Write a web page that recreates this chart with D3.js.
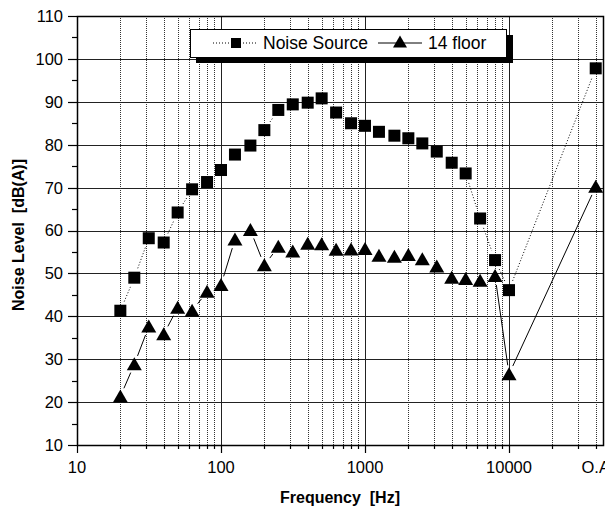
<!DOCTYPE html>
<html>
<head>
<style>
html, body { margin:0; padding:0; background:#fff; }
svg text { font-family: "Liberation Sans", Arial, sans-serif; fill:#000; }
</style>
</head>
<body>
<svg id="chart" width="605" height="511"></svg>
<script src="https://cdn.jsdelivr.net/npm/d3@7/dist/d3.min.js"></script>
<script>
// 1/3 octave bands, last point is the overall level (O.A)
var freqs = [20,25,31.5,40,50,63,80,100,125,160,200,250,315,400,500,630,800,1000,1250,1600,2000,2500,3150,4000,5000,6300,8000,10000,40000];
var noiseSource = [41.3,49,58.2,57.2,64.2,69.6,71.3,74.1,77.7,79.8,83.4,88.1,89.4,89.8,90.8,87.5,85,84.4,83,82.1,81.5,80.3,78.4,75.8,73.3,62.8,53.1,46.1,97.8];
var floor14 = [21.3,28.8,37.6,35.8,42,41.3,45.7,47.3,57.9,60.1,51.9,56.2,55.1,56.9,56.8,55.5,55.6,55.7,54.1,53.9,54.3,53.3,51.6,49,48.7,48.3,49.4,26.5,70.2];
var xTicks = [10,100,1000,10000,40000];
var xTickLabels = ["10","100","1000","10000","O.A"];
var yTicks = [10,20,30,40,50,60,70,80,90,100,110];

var svg = d3.select("#chart");
var x = d3.scaleLog().domain([10, 45670]).range([77, 604]);
var y = d3.scaleLinear().domain([10, 110]).range([445, 16]);

// minor vertical positions
var minorX = [];
[10,100,1000,10000].forEach(function(d){
    for (var k = 2; k <= 9; k++) { if (d*k < 45670) minorX.push(d*k); }
});

var grid = svg.append("g");
grid.selectAll(".vmin").data(minorX).enter().append("line")
    .attr("x1", function(d){ return Math.round(x(d))+0.5; })
    .attr("x2", function(d){ return Math.round(x(d))+0.5; })
    .attr("y1", y(110)).attr("y2", y(10))
    .attr("stroke", "#333").attr("stroke-width", 1).attr("stroke-dasharray", "1,1");
grid.selectAll(".vmaj").data([100,1000,10000]).enter().append("line")
    .attr("x1", function(d){ return Math.round(x(d))+0.5; })
    .attr("x2", function(d){ return Math.round(x(d))+0.5; })
    .attr("y1", y(110)).attr("y2", y(10))
    .attr("stroke", "#222").attr("stroke-width", 1);
grid.selectAll(".hmaj").data(d3.range(20, 101, 10)).enter().append("line")
    .attr("x1", x(10)).attr("x2", x.range()[1])
    .attr("y1", function(d){ return Math.round(y(d))+0.5; })
    .attr("y2", function(d){ return Math.round(y(d))+0.5; })
    .attr("stroke", "#222").attr("stroke-width", 1);

// frame
svg.append("rect")
    .attr("x", 77.5).attr("y", 16.5).attr("width", 604-77-1).attr("height", 445-16)
    .attr("fill", "none").attr("stroke", "#000").attr("stroke-width", 1.5);

// y axis ticks
var ax = svg.append("g");
ax.selectAll(".yt").data(yTicks).enter().append("line")
    .attr("x1", 68).attr("x2", 77)
    .attr("y1", function(d){ return Math.round(y(d))+0.5; })
    .attr("y2", function(d){ return Math.round(y(d))+0.5; })
    .attr("stroke", "#000").attr("stroke-width", 1.2);
ax.selectAll(".ytm").data(d3.range(15, 110, 10)).enter().append("line")
    .attr("x1", 72).attr("x2", 77)
    .attr("y1", function(d){ return Math.round(y(d))+0.5; })
    .attr("y2", function(d){ return Math.round(y(d))+0.5; })
    .attr("stroke", "#000").attr("stroke-width", 1.2);
ax.selectAll(".ylab").data(yTicks).enter().append("text")
    .attr("x", 63).attr("y", function(d){ return y(d); })
    .attr("dy", "0.36em").attr("text-anchor", "end")
    .style("font-size", "16.5px").text(function(d){ return d; });

// x axis ticks
ax.selectAll(".xt").data([10,100,1000,10000]).enter().append("line")
    .attr("x1", function(d){ return Math.round(x(d))+0.5; })
    .attr("x2", function(d){ return Math.round(x(d))+0.5; })
    .attr("y1", 445).attr("y2", 453)
    .attr("stroke", "#000").attr("stroke-width", 1.2);
ax.selectAll(".xtm").data(minorX).enter().append("line")
    .attr("x1", function(d){ return Math.round(x(d))+0.5; })
    .attr("x2", function(d){ return Math.round(x(d))+0.5; })
    .attr("y1", 445).attr("y2", 449)
    .attr("stroke", "#000").attr("stroke-width", 1.2);
ax.selectAll(".xlab").data(xTicks).enter().append("text")
    .attr("x", function(d){ return x(d); }).attr("y", 473)
    .attr("text-anchor", "middle")
    .style("font-size", "16.5px").text(function(d, i){ return xTickLabels[i]; });

// axis titles
svg.append("text").attr("x", 340).attr("y", 503).attr("text-anchor", "middle")
    .style("font-size", "16px").style("font-weight", "bold")
    .attr("xml:space", "preserve").text("Frequency  [Hz]");
svg.append("text").attr("transform", "translate(24,235) rotate(-90)")
    .attr("text-anchor", "middle")
    .style("font-size", "16px").style("font-weight", "bold")
    .attr("xml:space", "preserve").text("Noise Level  [dB(A)]");

// series lines with gaps around markers
function gapSegments(vals, gap) {
    var segs = [];
    for (var i = 0; i < vals.length - 1; i++) {
        var x1 = x(freqs[i]), y1 = y(vals[i]), x2 = x(freqs[i+1]), y2 = y(vals[i+1]);
        var dx = x2 - x1, dy = y2 - y1, len = Math.sqrt(dx*dx + dy*dy);
        if (len <= 2*gap + 1) continue;
        var ux = dx/len, uy = dy/len;
        segs.push([x1 + ux*gap, y1 + uy*gap, x2 - ux*gap, y2 - uy*gap]);
    }
    return segs;
}
var lines = svg.append("g");
lines.selectAll(".ns").data(gapSegments(noiseSource, 10)).enter().append("line")
    .attr("x1", function(s){ return s[0]; }).attr("y1", function(s){ return s[1]; })
    .attr("x2", function(s){ return s[2]; }).attr("y2", function(s){ return s[3]; })
    .attr("stroke", "#000").attr("stroke-width", 1).attr("stroke-dasharray", "1,2");
lines.selectAll(".fl").data(gapSegments(floor14, 9)).enter().append("line")
    .attr("x1", function(s){ return s[0]; }).attr("y1", function(s){ return s[1]; })
    .attr("x2", function(s){ return s[2]; }).attr("y2", function(s){ return s[3]; })
    .attr("stroke", "#000").attr("stroke-width", 1);

// markers
var sq = 12;
svg.append("g").selectAll("rect").data(noiseSource).enter().append("rect")
    .attr("x", function(d, i){ return x(freqs[i]) - sq/2; })
    .attr("y", function(d){ return y(d) - sq/2; })
    .attr("width", sq).attr("height", sq).attr("fill", "#000");
var triPath = "M0,-7 L7.5,6 L-7.5,6 Z";
svg.append("g").selectAll("path").data(floor14).enter().append("path")
    .attr("transform", function(d, i){ return "translate(" + x(freqs[i]) + "," + y(d) + ")"; })
    .attr("d", triPath).attr("fill", "#000");

// legend
var lg = svg.append("g");
lg.append("rect").attr("x", 196).attr("y", 35).attr("width", 317).attr("height", 28).attr("fill", "#000");
lg.append("rect").attr("x", 190.5).attr("y", 29.5).attr("width", 316).attr("height", 28)
    .attr("fill", "#fff").attr("stroke", "#000").attr("stroke-width", 1);
lg.append("line").attr("x1", 213).attr("x2", 256).attr("y1", 43).attr("y2", 43)
    .attr("stroke", "#000").attr("stroke-dasharray", "1,2");
lg.append("rect").attr("x", 236 - sq/2).attr("y", 43 - sq/2).attr("width", sq).attr("height", sq).attr("fill", "#fff");
lg.append("rect").attr("x", 236 - 5).attr("y", 43 - 5).attr("width", 10).attr("height", 10).attr("fill", "#000");
lg.append("text").attr("x", 263).attr("y", 49).style("font-size", "17.5px").text("Noise Source");
lg.append("line").attr("x1", 378).attr("x2", 422).attr("y1", 43).attr("y2", 43).attr("stroke", "#000");
lg.append("path").attr("transform", "translate(400,42)").attr("d", "M0,-6.5 L7,5.5 L-7,5.5 Z").attr("fill", "#000");
lg.append("text").attr("x", 428).attr("y", 49).style("font-size", "17.5px").text("14 floor");
</script>
</body>
</html>
